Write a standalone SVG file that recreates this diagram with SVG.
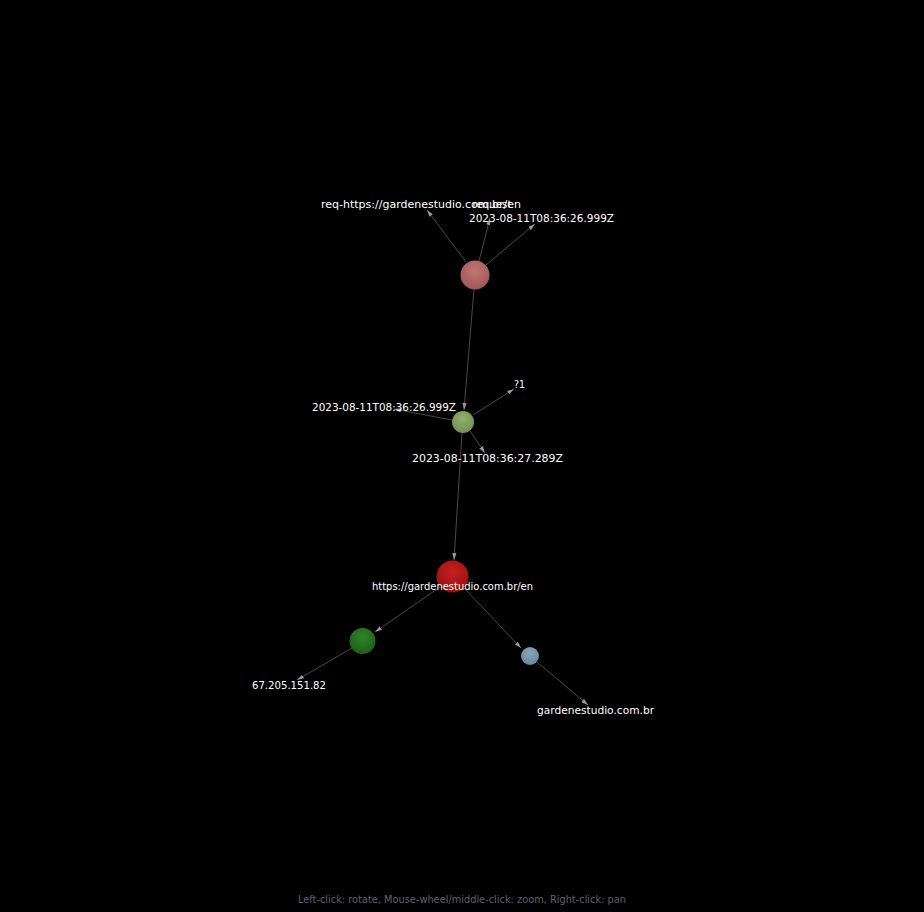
<svg xmlns="http://www.w3.org/2000/svg" width="924" height="912" viewBox="0 0 924 912">
<defs>
<style>
.lbl{font-family:"DejaVu Sans","Noto Sans",sans-serif;font-size:11px;fill:#ffffff;text-anchor:middle}
.help{font-family:"DejaVu Sans","Noto Sans",sans-serif;font-size:10px;fill:#5b6270;text-anchor:middle}
.edge{stroke:#4a4a4a;stroke-width:1;fill:none;marker-end:url(#arr)}
</style>
<marker id="arr" viewBox="0 0 10 6" refX="10" refY="3" markerWidth="7" markerHeight="4.2" markerUnits="userSpaceOnUse" orient="auto">
<path d="M0,0 L10,3 L0,6 Z" fill="#9a9a9a"/>
</marker>
<radialGradient id="gPink" cx="0.5" cy="0.35" r="0.65"><stop offset="0" stop-color="#c27575"/><stop offset="1" stop-color="#9e5858"/></radialGradient>
<radialGradient id="gLg" cx="0.5" cy="0.35" r="0.65"><stop offset="0" stop-color="#93b06d"/><stop offset="1" stop-color="#728f55"/></radialGradient>
<radialGradient id="gRed" cx="0.5" cy="0.35" r="0.65"><stop offset="0" stop-color="#c81e1e"/><stop offset="1" stop-color="#971212"/></radialGradient>
<radialGradient id="gDg" cx="0.5" cy="0.35" r="0.65"><stop offset="0" stop-color="#2f8428"/><stop offset="1" stop-color="#1f5e1a"/></radialGradient>
<radialGradient id="gBl" cx="0.5" cy="0.35" r="0.65"><stop offset="0" stop-color="#88a6ba"/><stop offset="1" stop-color="#6a8799"/></radialGradient>
</defs>
<rect width="924" height="912" fill="#000000"/>
<g id="connectors">
<line class="edge" x1="466" y1="262" x2="427" y2="210"/>
<line class="edge" x1="479" y1="261" x2="490" y2="218"/>
<line class="edge" x1="486" y1="265" x2="535" y2="224"/>
<line class="edge" x1="474" y1="289" x2="464" y2="410"/>
<line class="edge" x1="473" y1="415" x2="514" y2="389"/>
<line class="edge" x1="452" y1="420" x2="394" y2="409"/>
<line class="edge" x1="470" y1="431" x2="485" y2="453"/>
<line class="edge" x1="462" y1="433" x2="454" y2="560"/>
<line class="edge" x1="440" y1="587" x2="375" y2="632"/>
<line class="edge" x1="352" y1="648" x2="297" y2="680"/>
<line class="edge" x1="464" y1="588" x2="521" y2="648"/>
<line class="edge" x1="537" y1="662" x2="588" y2="705"/>
</g>
<g id="n-req-label"><text class="lbl" x="421" y="208" textLength="200" lengthAdjust="spacingAndGlyphs">req-https://gardenestudio.com.br/en</text></g>
<g id="n-request"><text class="lbl" x="492" y="208" textLength="39" lengthAdjust="spacingAndGlyphs">request</text></g>
<g id="n-date-top"><text class="lbl" x="541.5" y="222" textLength="145" lengthAdjust="spacingAndGlyphs">2023-08-11T08:36:26.999Z</text></g>
<g id="n-q1"><text class="lbl" x="519.5" y="388" textLength="11" lengthAdjust="spacingAndGlyphs">?1</text></g>
<g id="n-date-left"><text class="lbl" x="384" y="411" textLength="144" lengthAdjust="spacingAndGlyphs">2023-08-11T08:36:26.999Z</text></g>
<g id="n-date-low"><text class="lbl" x="487.5" y="462" textLength="151" lengthAdjust="spacingAndGlyphs">2023-08-11T08:36:27.289Z</text></g>
<g id="n-ip"><text class="lbl" x="289" y="689" textLength="74" lengthAdjust="spacingAndGlyphs">67.205.151.82</text></g>
<g id="n-domain"><text class="lbl" x="595.5" y="714" textLength="117" lengthAdjust="spacingAndGlyphs">gardenestudio.com.br</text></g>
<g id="n-request-node"><circle cx="475" cy="275" r="14.5" fill="url(#gPink)"/></g>
<g id="n-response-node"><circle cx="463" cy="422" r="11" fill="url(#gLg)"/></g>
<g id="n-url-node"><circle cx="452.5" cy="576.5" r="16" fill="url(#gRed)"/></g>
<g id="n-url"><text class="lbl" x="452.5" y="590" textLength="161" lengthAdjust="spacingAndGlyphs">https://gardenestudio.com.br/en</text></g>
<g id="n-ip-node"><circle cx="362.5" cy="641" r="13" fill="url(#gDg)"/></g>
<g id="n-domain-node"><circle cx="530" cy="656" r="9" fill="url(#gBl)"/></g>
<text class="help" x="462" y="903" textLength="328" lengthAdjust="spacingAndGlyphs">Left-click: rotate, Mouse-wheel/middle-click: zoom, Right-click: pan</text>
</svg>
